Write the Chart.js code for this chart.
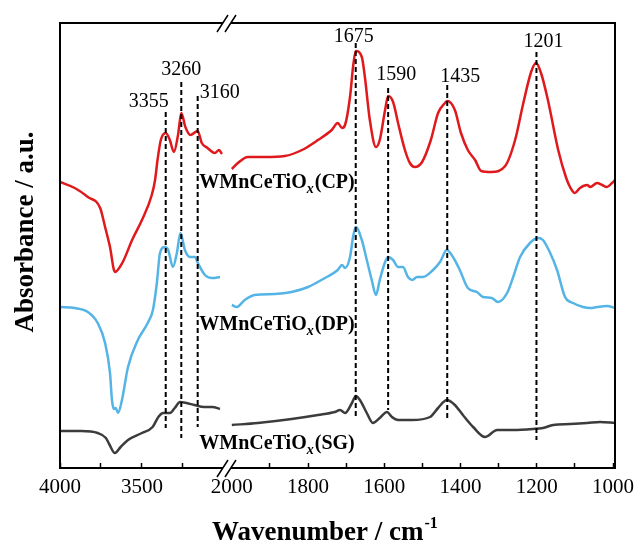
<!DOCTYPE html>
<html>
<head>
<meta charset="utf-8">
<script src="https://cdn.jsdelivr.net/npm/chart.js@4.4.1/dist/chart.umd.min.js"></script>
<style>
body{margin:0;background:#fff}
canvas{display:block}
</style>
</head>
<body>
<canvas id="grafico" width="638" height="543"></canvas>
<script>
// espectros (absorbancia em u.a., curvas ja deslocadas)
const cpLeftWn = [4000,3910,3830,3755,3725,3695,3665,3620,3560,3500,3440,3420,3405,3385,3355,3330,3305,3280,3260,3235,3205,3160,3135,3100,3055,3030,3012]
const cpLeftAbs = [2.86,2.80,2.71,2.60,2.41,2.21,1.96,2.05,2.28,2.48,2.73,2.88,3.08,3.28,3.35,3.28,3.16,3.33,3.55,3.41,3.33,3.37,3.25,3.20,3.15,3.18,3.14]
const cpRightWn = [2000,1984,1958,1913,1861,1816,1774,1738,1722,1711,1703,1690,1682,1675,1659,1651,1638,1622,1612,1598,1590,1577,1564,1546,1533,1520,1501,1478,1459,1441,1435,1415,1399,1381,1362,1346,1320,1283,1257,1236,1215,1202,1189,1171,1144,1123,1113,1100,1087,1068,1060,1042,1029,1016,1003,995]
const cpRightAbs = [2.99,3.05,3.11,3.11,3.12,3.18,3.28,3.38,3.45,3.40,3.43,3.71,4.01,4.17,4.11,3.91,3.48,3.21,3.28,3.58,3.72,3.66,3.45,3.18,3.05,3.01,3.06,3.28,3.55,3.65,3.67,3.58,3.35,3.18,3.08,2.97,2.96,3.02,3.28,3.64,3.96,4.05,3.95,3.68,3.18,2.90,2.81,2.75,2.80,2.83,2.81,2.85,2.83,2.81,2.85,2.88]

const dpLeftWn = [4000,3910,3830,3770,3725,3695,3683,3671,3660,3646,3622,3585,3525,3465,3433,3409,3390,3360,3340,3311,3287,3265,3238,3207,3177,3159,3116,3073,3024]
const dpLeftAbs = [1.61,1.60,1.56,1.45,1.25,0.95,0.68,0.59,0.60,0.55,0.68,1.01,1.28,1.45,1.58,1.85,2.15,2.21,2.18,2.01,2.15,2.35,2.18,2.11,2.11,2.05,1.93,1.90,1.91]
const dpRightWn = [2000,1987,1966,1940,1887,1843,1800,1756,1722,1711,1703,1690,1682,1675,1659,1646,1633,1622,1612,1598,1590,1577,1564,1551,1538,1527,1514,1499,1472,1454,1436,1420,1402,1381,1357,1341,1318,1302,1278,1262,1244,1218,1197,1184,1165,1147,1126,1105,1079,1060,1042,1016,995]
const dpRightAbs = [1.63,1.61,1.68,1.73,1.74,1.76,1.81,1.90,1.98,2.03,2.00,2.11,2.31,2.41,2.28,2.08,1.88,1.73,1.88,2.06,2.11,2.08,2.01,2.01,1.91,1.88,1.91,1.91,1.98,2.06,2.18,2.11,1.98,1.80,1.76,1.71,1.70,1.66,1.75,1.91,2.11,2.25,2.30,2.28,2.15,1.98,1.71,1.65,1.61,1.60,1.61,1.62,1.60]

const sgLeftWn = [4000,3870,3770,3720,3700,3665,3630,3585,3500,3435,3400,3370,3330,3300,3268,3228,3180,3120,3070,3024]
const sgLeftAbs = [0.37,0.37,0.35,0.30,0.24,0.15,0.21,0.28,0.35,0.41,0.51,0.55,0.55,0.60,0.66,0.65,0.63,0.61,0.61,0.59]
const sgRightWn = [2000,1932,1843,1774,1730,1716,1703,1685,1675,1664,1646,1630,1612,1593,1580,1564,1528,1480,1459,1436,1415,1394,1367,1336,1304,1262,1210,1184,1157,1113,1068,1034,995]
const sgRightAbs = [0.43,0.45,0.49,0.53,0.56,0.58,0.55,0.65,0.72,0.68,0.55,0.45,0.50,0.56,0.51,0.48,0.48,0.51,0.60,0.68,0.63,0.53,0.41,0.31,0.38,0.38,0.39,0.40,0.43,0.44,0.45,0.46,0.45]

// picos marcados com linhas tracejadas
const peakWn = [3355,3260,3160,1675,1590,1435,1201]
const peakTopAbs = [3.56,3.86,3.72,4.25,3.80,3.83,4.16]
const peakBottomAbs = [0.40,0.30,0.41,0.50,0.58,0.50,0.28]
const peakLabelAbs = [3.61,3.93,3.70,4.26,3.88,3.86,4.21]

// rotulos das amostras
const sampleNames = ['CP','DP','SG']
const sampleLabelAbs = [2.80,1.38,0.19]
const sampleLabelWn = 3150

// ticks de cada trecho do eixo x
const leftTicks = [3250,3500,3750,4000]
const leftLabels = [3500,4000]
const rightTicks = [1000,1100,1200,1300,1400,1500,1600,1700,1800,1900,2000]
const rightLabels = [1000,1200,1400,1600,1800,2000]
const hiddenTicks = [2000]

const fonte = '"Liberation Serif", "Times New Roman", serif'
const cores = ['#e0191c','#55b4e6','#3c3c3c']

function pares(wn, ab){
return wn.map((w,i)=>({x:w,y:ab[i]}))
}

let datasets=[]

peakWn.forEach((w,i)=>{
datasets.push({
data:[{x:w,y:peakTopAbs[i]},{x:w,y:peakBottomAbs[i]}],
xAxisID: w>2500 ? 'xl' : 'xr',
borderColor:'#000',
borderWidth:2,
borderDash:[5,3],
pointRadius:0,
order:0
})
})

const curvas=[
[cpLeftWn,cpLeftAbs,cpRightWn,cpRightAbs],
[dpLeftWn,dpLeftAbs,dpRightWn,dpRightAbs],
[sgLeftWn,sgLeftAbs,sgRightWn,sgRightAbs]
]

curvas.forEach((c,i)=>{
datasets.push({data:pares(c[0],c[1]),xAxisID:'xl',borderColor:cores[i],borderWidth:2.5,pointRadius:0,cubicInterpolationMode:'monotone',order:1})
datasets.push({data:pares(c[2],c[3]),xAxisID:'xr',borderColor:cores[i],borderWidth:2.5,pointRadius:0,cubicInterpolationMode:'monotone',order:1})
})

const peakAlign=['right','center','left','center','center','center','center']
const peakDx=[3,0,2,-2,8,13,7]

const textos={
id:'textos',
afterDraw(chart){
const {ctx,chartArea:a,scales}=chart
const y=scales.y
ctx.save()

// moldura
ctx.strokeStyle='#000'
ctx.lineWidth=2
ctx.strokeRect(a.left,a.top,a.right-a.left,a.bottom-a.top)

// quebra do eixo
const bx=scales.xl.right
;[a.top,a.bottom].forEach(by=>{
ctx.fillStyle='#fff'
ctx.fillRect(bx-5,by-2,8,4)
ctx.beginPath()
ctx.moveTo(bx-11,by+9);ctx.lineTo(bx,by-8)
ctx.moveTo(bx-3,by+9);ctx.lineTo(bx+8,by-8)
ctx.lineWidth=1.5
ctx.stroke()
})

// numeros dos picos
ctx.fillStyle='#000'
ctx.textBaseline='alphabetic'
ctx.font='20px '+fonte
peakWn.forEach((w,i)=>{
const sx= w>2500 ? scales.xl : scales.xr
ctx.textAlign=peakAlign[i]
ctx.fillText(String(w),sx.getPixelForValue(w)+peakDx[i],y.getPixelForValue(peakLabelAbs[i]))
})

// nomes das amostras
ctx.textAlign='left'
sampleNames.forEach((n,i)=>{
let x=scales.xl.getPixelForValue(sampleLabelWn)
const yy=y.getPixelForValue(sampleLabelAbs[i])
ctx.font='bold 20px '+fonte
ctx.fillText('WMnCeTiO',x,yy)
x+=ctx.measureText('WMnCeTiO').width
ctx.font='italic bold 14px '+fonte
ctx.fillText('x',x,yy+5)
x+=ctx.measureText('x').width+1
ctx.font='bold 20px '+fonte
ctx.fillText('('+n+')',x,yy)
})

// titulo eixo x
ctx.font='bold 27px '+fonte
const tx=a.left+152
ctx.fillText('Wavenumber / cm',tx,a.bottom+72)
const tw=ctx.measureText('Wavenumber / cm').width
ctx.font='bold 16px '+fonte
ctx.fillText('-1',tx+tw+1,a.bottom+60)

// titulo eixo y
ctx.font='bold 27px '+fonte
ctx.translate(33,232)
ctx.rotate(-Math.PI/2)
ctx.textAlign='center'
ctx.fillText('Absorbance / a.u.',0,0)
ctx.restore()
}
}

const eixoX=(min,max,peso,marcas,rotulos)=>({
type:'linear',
position:'bottom',
stack:'x',
stackWeight:peso,
reverse:true,
min:min,
max:max,
border:{display:false},
grid:{
drawOnChartArea:false,
drawTicks:true,
tickLength:-5,
tickWidth:1.5,
color:c=>(c.tick && hiddenTicks.includes(c.tick.value)) ? 'rgba(0,0,0,0)' : '#000'
},
ticks:{
padding:12,
color:'#000',
maxRotation:0,
autoSkip:false,
font:{family:fonte,size:21},
callback:v=> rotulos.includes(v) ? String(v) : ''
},
afterBuildTicks:s=>{s.ticks=marcas.map(v=>({value:v}))},
afterFit:s=>{s.height=75}
})

new Chart(document.getElementById('grafico'),{
type:'line',
data:{datasets:datasets},
options:{
responsive:false,
animation:false,
devicePixelRatio:1,
layout:{padding:{top:23,right:23,left:0,bottom:0}},
plugins:{legend:{display:false},tooltip:{enabled:false}},
scales:{
xl:eixoX(2975,4000,168,leftTicks,leftLabels),
xr:eixoX(995,2010,387,rightTicks,rightLabels),
y:{
type:'linear',
position:'left',
min:0,
max:4.45,
ticks:{display:false},
grid:{display:false},
border:{display:false},
afterFit:s=>{s.width=60}
}
}
},
plugins:[textos]
})
</script>
</body>
</html>
